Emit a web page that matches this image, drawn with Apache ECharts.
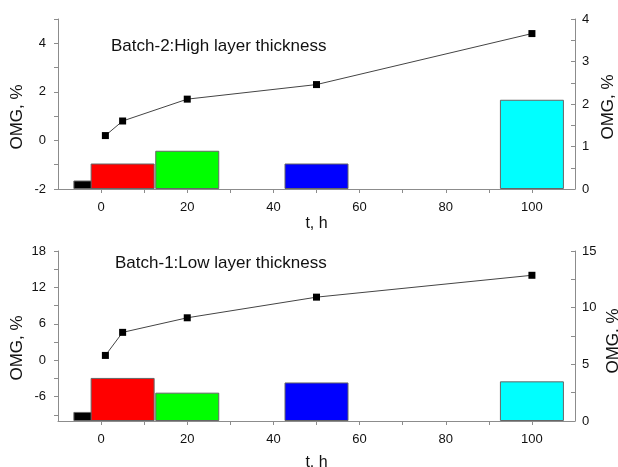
<!DOCTYPE html>
<html>
<head>
<meta charset="utf-8">
<script src="https://cdn.jsdelivr.net/npm/echarts@6/dist/echarts.min.js"></script>
<style>
  html, body { margin: 0; padding: 0; background: #fff; }
  #chart { width: 618px; height: 467px; }
</style>
</head>
<body>
<div id="chart"></div>
<script>
// time points, h
var times = [1, 5, 20, 50, 100];
// Batch-2 (top)
var topLine = [0.2, 0.8, 1.7, 2.3, 4.4];
var topBars = [0.2, 0.6, 0.9, 0.6, 2.1];
// Batch-1 (bottom)
var bottomLine = [0.8, 4.6, 7.0, 10.4, 14.0];
var bottomBars = [0.8, 3.8, 2.5, 3.4, 3.5];

var xLabels = [0, 20, 40, 60, 80, 100];
var xTicks = [0, 10, 20, 30, 40, 50, 60, 70, 80, 90, 100];
var topLeftLabels = [-2, 0, 2, 4];
var topLeftTicks = [-2, -1, 0, 1, 2, 3, 4, 5];
var topRightLabels = [0, 1, 2, 3, 4];
var topRightTicks = [0, 0.5, 1, 1.5, 2, 2.5, 3, 3.5, 4];
var botLeftLabels = [-6, 0, 6, 12, 18];
var botLeftTicks = [-9, -6, -3, 0, 3, 6, 9, 12, 15, 18];
var botRightLabels = [0, 5, 10, 15];
var botRightTicks = [0, 2.5, 5, 7.5, 10, 12.5, 15];

var barColors = ['#000000', '#ff0000', '#00ff00', '#0000ff', '#00ffff'];

var font = "'Liberation Sans', Arial, sans-serif";
var axisGray = '#8c8c8c';

function pairs(ys) {
  return times.map(function (t, i) { return [t, ys[i]]; });
}
function barData(ys) {
  return times.map(function (t, i) {
    return { value: [t, ys[i]], itemStyle: { color: barColors[i] } };
  });
}

function xAxis(idx, gap) {
  return {
    type: 'value', gridIndex: idx, min: -10, max: 110,
    name: 't, h', nameLocation: 'middle', nameGap: gap, nameMoveOverlap: false,
    nameTextStyle: { fontFamily: font, fontSize: 16, color: '#111' },
    axisLine: { onZero: false, lineStyle: { color: axisGray } },
    axisTick: { length: 4, customValues: xTicks, lineStyle: { color: axisGray } },
    axisLabel: { customValues: xLabels, fontFamily: font, fontSize: 13, color: '#111', margin: 12 },
    splitLine: { show: false }
  };
}

function yAxis(idx, pos, min, max, labels, ticks, gap, pad) {
  var left = pos === 'left';
  return {
    type: 'value', gridIndex: idx, position: pos, min: min, max: max,
    name: 'OMG, %', nameLocation: 'middle', nameRotate: 90,
    nameGap: gap, nameMoveOverlap: false,
    nameTextStyle: { fontFamily: font, fontSize: 17, color: '#111', padding: pad },
    axisLine: { show: true, onZero: false, lineStyle: { color: axisGray } },
    axisTick: { length: 4, inside: !left, customValues: ticks, lineStyle: { color: axisGray } },
    axisLabel: { customValues: labels, fontFamily: font, fontSize: 13, color: '#111', margin: left ? 12 : 7 },
    splitLine: { show: false }
  };
}

var chart = echarts.init(document.getElementById('chart'));
chart.setOption({
  animation: false,
  title: [
    { text: 'Batch-2:High layer thickness', left: 111, top: 38, padding: 0,
      textStyle: { fontFamily: font, fontSize: 17, fontWeight: 'normal', color: '#111' } },
    { text: 'Batch-1:Low layer thickness', left: 115, top: 255, padding: 0,
      textStyle: { fontFamily: font, fontSize: 17, fontWeight: 'normal', color: '#111' } }
  ],
  grid: [
    { left: 58, right: 43, top: 19, height: 170, outerBoundsMode: 'none', containLabel: false },
    { left: 58, right: 43, top: 251, height: 170, outerBoundsMode: 'none', containLabel: false }
  ],
  xAxis: [xAxis(0, 27), xAxis(1, 34)],
  yAxis: [
    yAxis(0, 'left', -2, 5, topLeftLabels, topLeftTicks, 32, [0, 26, 0, 0]),
    yAxis(0, 'right', 0, 4, topRightLabels, topRightTicks, 25, [0, 6, 0, 0]),
    yAxis(1, 'left', -10, 18, botLeftLabels, botLeftTicks, 32, [0, 24, 0, 0]),
    yAxis(1, 'right', 0, 15, botRightLabels, botRightTicks, 30, [0, 10, 0, 0])
  ],
  series: [
    { type: 'bar', xAxisIndex: 0, yAxisIndex: 1, barWidth: 64, data: barData(topBars),
      itemStyle: { borderColor: '#666', borderWidth: 1 } },
    { type: 'line', xAxisIndex: 0, yAxisIndex: 0, data: pairs(topLine),
      symbol: 'rect', symbolSize: 7, itemStyle: { color: '#000' },
      lineStyle: { color: '#444', width: 1 } },
    { type: 'bar', xAxisIndex: 1, yAxisIndex: 3, barWidth: 64, data: barData(bottomBars),
      itemStyle: { borderColor: '#666', borderWidth: 1 } },
    { type: 'line', xAxisIndex: 1, yAxisIndex: 2, data: pairs(bottomLine),
      symbol: 'rect', symbolSize: 7, itemStyle: { color: '#000' },
      lineStyle: { color: '#444', width: 1 } }
  ]
});
</script>
</body>
</html>
